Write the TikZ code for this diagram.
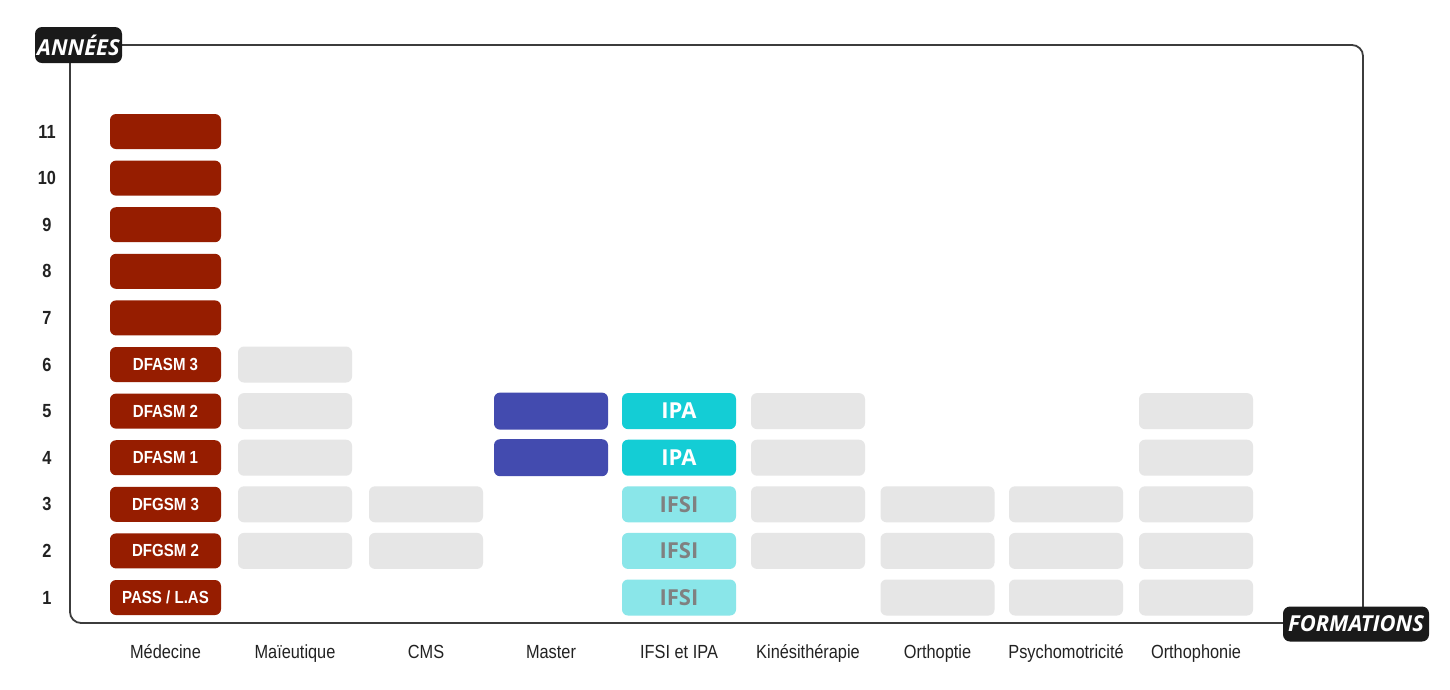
\documentclass[tikz,border=0pt]{standalone}
\usepackage{fontspec}
\setmainfont{Liberation Sans}
\newfontfamily\condfont[FakeStretch=0.86]{Liberation Sans}
\newfontfamily\osfont{Open Sans}
\definecolor{medred}{RGB}{150,29,0}
\definecolor{masterblue}{RGB}{67,75,175}
\definecolor{ipacyan}{RGB}{20,205,213}
\definecolor{ifsicyan}{RGB}{138,230,233}
\definecolor{graybox}{RGB}{230,230,230}
\definecolor{framegray}{RGB}{60,60,60}
\definecolor{tagblack}{RGB}{26,26,26}
\definecolor{txtdark}{RGB}{34,34,34}
\definecolor{ifsitext}{RGB}{128,128,128}
\tikzset{
  blk/.style={rounded corners=6pt, minimum width=114pt, minimum height=36pt, inner sep=0pt, draw=none},
  redblk/.style={blk, fill=medred, minimum width=111pt, minimum height=35pt, text=white, font=\condfont\bfseries\fontsize{17.5}{20}\selectfont},
  grayblk/.style={blk, fill=graybox},
  blueblk/.style={blk, fill=masterblue, minimum height=37pt},
  ipablk/.style={blk, fill=ipacyan, text=white, font=\osfont\bfseries\fontsize{22}{24}\selectfont},
  ifsiblk/.style={blk, fill=ifsicyan, text=ifsitext, font=\osfont\bfseries\fontsize{22}{24}\selectfont},
  yearlbl/.style={text=txtdark, font=\condfont\bfseries\fontsize{19}{22}\selectfont, inner sep=0pt},
  collbl/.style={text=txtdark, font=\condfont\fontsize{19}{22}\selectfont, inner sep=0pt, anchor=base},
  tag/.style={fill=tagblack, rounded corners=7pt, text=white, inner sep=0pt, font=\osfont\bfseries\itshape\fontsize{22}{24}\selectfont},
  frame/.style={draw=framegray, line width=1.8pt, rounded corners=11pt, inner sep=0pt}
}
\begin{document}
\begin{tikzpicture}[x=1pt,y=-1pt]
\useasboundingbox (0,0) rectangle (1450,689);
\fill[white] (0,0) rectangle (1450,689);
% frame
\node[frame, minimum width=1293pt, minimum height=578pt] (frame) at (716.5,334) {};
% tags
\node[tag, minimum width=87pt, minimum height=36pt] (annees) at (78.5,45) {ANNÉES};
\node[tag, minimum width=146pt, minimum height=35pt] (formations) at (1356,624) {FORMATIONS};
% year labels
\foreach \r in {1,...,11}
  \node[yearlbl] (y\r) at (47,{597.5-(\r-1)*46.6}) {\r};
% Medecine
\node[redblk] (med1) at (165.5,597.5) {PASS / L.AS};
\foreach \r/\t in {2/DFGSM 2,3/DFGSM 3,4/DFASM 1,5/DFASM 2,6/DFASM 3,7/,8/,9/,10/,11/}
  \node[redblk] (med\r) at (165.5,{597.5-(\r-1)*46.6}) {\t};
% Maieutique
\foreach \r in {2,...,6}
  \node[grayblk] (mai\r) at (295,{597.5-(\r-1)*46.6}) {};
% CMS
\foreach \r in {2,3}
  \node[grayblk] (cms\r) at (426,{597.5-(\r-1)*46.6}) {};
% Master
\foreach \r in {4,5}
  \node[blueblk] (mas\r) at (551,{597.5-(\r-1)*46.6}) {};
% IFSI et IPA
\foreach \r in {1,2,3}
  \node[ifsiblk] (ifsi\r) at (679,{597.5-(\r-1)*46.6}) {IFSI};
\foreach \r in {4,5}
  \node[ipablk] (ipa\r) at (679,{597.5-(\r-1)*46.6}) {IPA};
% Kine
\foreach \r in {2,...,5}
  \node[grayblk] (kin\r) at (808,{597.5-(\r-1)*46.6}) {};
% Orthoptie
\foreach \r in {1,2,3}
  \node[grayblk] (opt\r) at (937.5,{597.5-(\r-1)*46.6}) {};
% Psychomotricite
\foreach \r in {1,2,3}
  \node[grayblk] (psy\r) at (1066,{597.5-(\r-1)*46.6}) {};
% Orthophonie
\foreach \r in {1,...,5}
  \node[grayblk] (oph\r) at (1196,{597.5-(\r-1)*46.6}) {};
% column labels
\node[collbl] (lmed) at (165.5,658) {Médecine};
\node[collbl] (lmai) at (295,658) {Maïeutique};
\node[collbl] (lcms) at (426,658) {CMS};
\node[collbl] (lmas) at (551,658) {Master};
\node[collbl] (lifs) at (679,658) {IFSI et IPA};
\node[collbl] (lkin) at (808,658) {Kinésithérapie};
\node[collbl] (lopt) at (937.5,658) {Orthoptie};
\node[collbl] (lpsy) at (1066,658) {Psychomotricité};
\node[collbl] (loph) at (1196,658) {Orthophonie};
\end{tikzpicture}
\end{document}
